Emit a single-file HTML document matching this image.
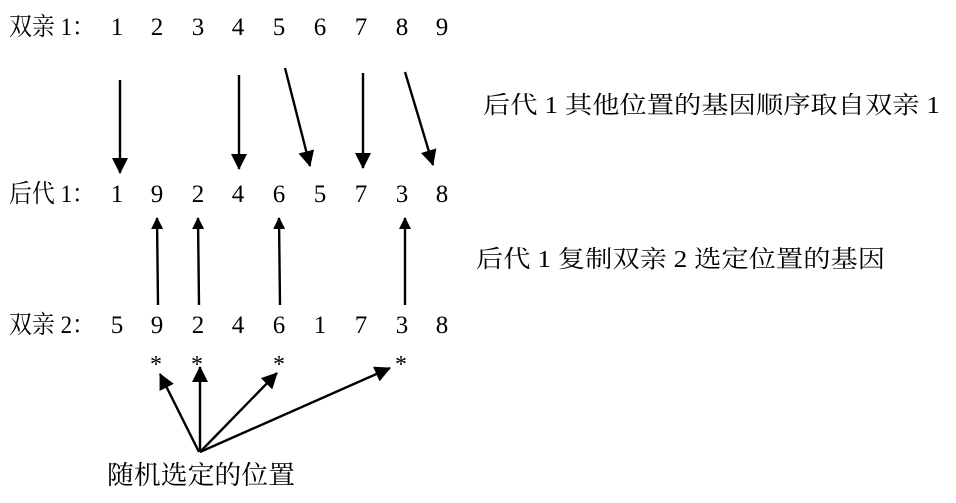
<!DOCTYPE html>
<html><head><meta charset="utf-8"><style>html,body{margin:0;padding:0;background:#fff;}svg{display:block}</style></head>
<body>
<svg width="956" height="503" viewBox="0 0 956 503" xmlns="http://www.w3.org/2000/svg" font-family="'Liberation Serif','Noto Serif CJK SC',serif" fill="#000">
<defs><marker id="a" markerWidth="12" markerHeight="12" refX="11" refY="6" orient="auto" markerUnits="userSpaceOnUse" viewBox="0 0 12 12"><path d="M0,0 L12,6 L0,12 z"/></marker>
<marker id="b" markerWidth="16" markerHeight="16" refX="15" refY="8" orient="auto" markerUnits="userSpaceOnUse" viewBox="0 0 16 16"><path d="M0,0 L16,8 L0,16 z"/></marker></defs>
<g font-size="25">
<text x="9" y="35" textLength="86" lengthAdjust="spacingAndGlyphs">双亲 1：</text>
<text x="9" y="202" textLength="86" lengthAdjust="spacingAndGlyphs">后代 1：</text>
<text x="9" y="333" textLength="86" lengthAdjust="spacingAndGlyphs">双亲 2：</text>
</g>
<g font-size="25" text-anchor="middle">
<text x="117" y="35">1</text><text x="157" y="35">2</text><text x="198" y="35">3</text><text x="238" y="35">4</text><text x="279" y="35">5</text><text x="320" y="35">6</text><text x="361" y="35">7</text><text x="402" y="35">8</text><text x="442" y="35">9</text>
<text x="117" y="202">1</text><text x="157" y="202">9</text><text x="198" y="202">2</text><text x="238" y="202">4</text><text x="279" y="202">6</text><text x="320" y="202">5</text><text x="361" y="202">7</text><text x="402" y="202">3</text><text x="442" y="202">8</text>
<text x="117" y="333">5</text><text x="157" y="333">9</text><text x="198" y="333">2</text><text x="238" y="333">4</text><text x="279" y="333">6</text><text x="320" y="333">1</text><text x="361" y="333">7</text><text x="402" y="333">3</text><text x="442" y="333">8</text>
</g>
<g font-size="24" text-anchor="middle">
<text x="156" y="372">*</text><text x="197" y="372">*</text><text x="279" y="372">*</text><text x="401" y="372">*</text>
</g>
<text x="483" y="113" font-size="24" textLength="457" lengthAdjust="spacingAndGlyphs">后代 1 其他位置的基因顺序取自双亲 1</text>
<text x="476" y="267" font-size="24" textLength="409" lengthAdjust="spacingAndGlyphs">后代 1 复制双亲 2 选定位置的基因</text>
<text x="107" y="484" font-size="26" textLength="188" lengthAdjust="spacingAndGlyphs">随机选定的位置</text>
<g stroke="#000" stroke-width="2.4" fill="none">
<line x1="120" y1="80" x2="120" y2="173" marker-end="url(#b)"/>
<line x1="239" y1="75" x2="239" y2="169" marker-end="url(#b)"/>
<line x1="285" y1="68" x2="310" y2="166" marker-end="url(#b)"/>
<line x1="363" y1="73" x2="363" y2="168" marker-end="url(#b)"/>
<line x1="405" y1="72" x2="433" y2="165" marker-end="url(#b)"/>
<line x1="158" y1="305" x2="157" y2="218" marker-end="url(#a)"/>
<line x1="199" y1="305" x2="198" y2="218" marker-end="url(#a)"/>
<line x1="280" y1="305" x2="279" y2="218" marker-end="url(#a)"/>
<line x1="405" y1="305" x2="405" y2="218" marker-end="url(#a)"/>
<line x1="199" y1="452" x2="160" y2="374" marker-end="url(#b)"/>
<line x1="200" y1="452" x2="200" y2="367" marker-end="url(#b)"/>
<line x1="200" y1="452" x2="277" y2="373" marker-end="url(#b)"/>
<line x1="200" y1="452" x2="390" y2="368" marker-end="url(#b)"/>
</g>
</svg>
</body></html>
